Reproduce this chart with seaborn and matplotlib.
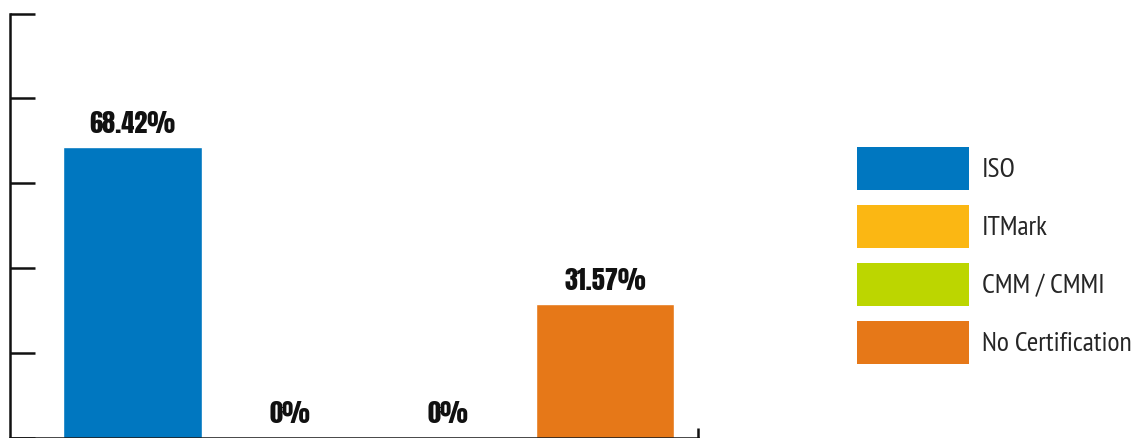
import matplotlib
matplotlib.use("Agg")
import matplotlib.pyplot as plt
from matplotlib.patches import Patch
import seaborn as sns
import pandas as pd

# Share of companies by certification type
categories = ["ISO", "ITMark", "CMM / CMMI", "No Certification"]
shares = [68.42, 0.0, 0.0, 31.57]
value_labels = ["68.42%", "0%", "0%", "31.57%"]
colors = ["#0077C0", "#FBB713", "#BCD600", "#E67818"]

df = pd.DataFrame({"category": categories, "share": shares})

sns.set_theme(style="white")
plt.rcParams["font.family"] = ["DejaVu Sans"]

label_fonts = ["Anton", "Oswald", "DejaVu Sans"]
legend_fonts = ["PT Sans Narrow", "Ubuntu Condensed", "Roboto Condensed",
                "Sofia Sans Condensed", "DejaVu Sans"]

fig = plt.figure(figsize=(11.35, 4.38), dpi=100)
ax = fig.add_axes([10 / 1135, 0.5 / 438, 688 / 1135, 424 / 438])

sns.barplot(data=df, x="category", y="share", hue="category",
            palette=colors, order=categories, hue_order=categories,
            width=0.88, saturation=1, legend=False, ax=ax)

ax.set_ylim(0, 100)
ax.set_xlim(-0.778, 3.59)
ax.set_yticks([0, 20, 40, 60, 80, 100])
ax.set_yticklabels([])
ax.set_xticks([3.59])
ax.set_xticklabels([])
ax.tick_params(axis="y", direction="in", length=18, width=1.8, color="#111111", left=True)
ax.tick_params(axis="x", direction="in", length=7, width=1.8, color="#111111", bottom=True)
ax.set_xlabel("")
ax.set_ylabel("")

for side in ["top", "right"]:
    ax.spines[side].set_visible(False)
for side in ["left", "bottom"]:
    ax.spines[side].set_color("#111111")
    ax.spines[side].set_linewidth(1.8)

for i, container in enumerate(ax.containers):
    ax.bar_label(container, labels=[value_labels[i]], padding=8,
                 fontsize=19, family=label_fonts, color="#111111")

handles = [Patch(facecolor=c, edgecolor="none") for c in colors]
fig.legend(handles, categories, loc="upper left",
           bbox_to_anchor=(832 / 1135, 1 - 122 / 438),
           frameon=False, handlelength=4.03, handleheight=1.99,
           labelspacing=0.55, handletextpad=0.47,
           prop={"family": legend_fonts, "size": 20})

fig.savefig("out.png", dpi=100)
